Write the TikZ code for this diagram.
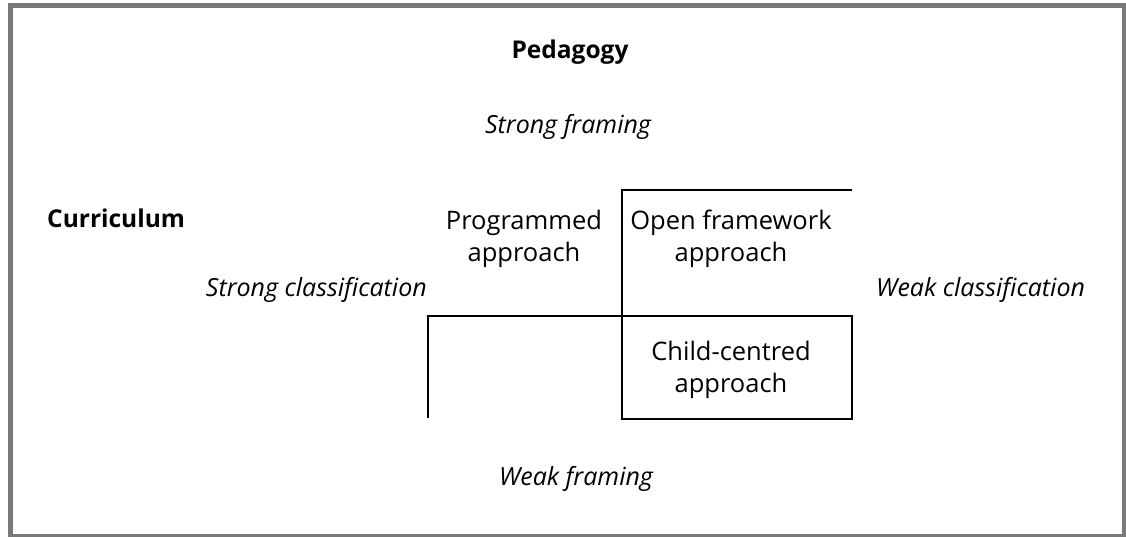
\documentclass[tikz,border=0pt]{standalone}
\usepackage{fontspec}
\setmainfont{Open Sans}
\begin{document}
\begin{tikzpicture}[x=1pt,y=-1pt,
  lbl/.style={inner sep=0pt, font=\fontsize{25.5}{32}\selectfont, align=center},
  head/.style={inner sep=0pt, font=\fontsize{24.5}{32}\selectfont\bfseries},
  pole/.style={inner sep=0pt, font=\fontsize{25}{32}\selectfont\itshape},
  grid/.style={line width=1.6pt, black}]
  \useasboundingbox (0,0) rectangle (1126,537);
  % outer frame
  \draw[line width=5pt, gray!95!black] (10.5,5.5) rectangle (1124.5,536.5);
  % headings and poles
  \node[head, anchor=base] (ped) at (570,59) {Pedagogy};
  \node[pole, anchor=base] (sf) at (568,134) {Strong framing};
  \node[pole, anchor=base] (wf) at (576,485) {Weak framing};
  \node[head, anchor=base west] (cur) at (47,228) {Curriculum};
  \node[pole, anchor=base east] (sc) at (427,296) {Strong classification};
  \node[pole, anchor=base west] (wc) at (876,296) {Weak classification};
  % quadrant labels
  \node[lbl] (prog) at (524,238.5) {Programmed\\approach};
  \node[lbl] (open) at (731,238.5) {Open framework\\approach};
  \node[lbl] (child) at (731,369.5) {Child-centred\\approach};
  % grid corners
  \coordinate (tl) at (622,190);
  \coordinate (tr) at (852,190);
  \coordinate (ml) at (428,316);
  \coordinate (mr) at (852,316);
  \coordinate (bl) at (428,418);
  \coordinate (bm) at (622,419);
  \coordinate (br) at (852,419);
  % grid lines
  \draw[grid] (tr) -- (tl) -- (bm) -- (br) -- (mr) -- (ml) -- (bl);
\end{tikzpicture}
\end{document}
